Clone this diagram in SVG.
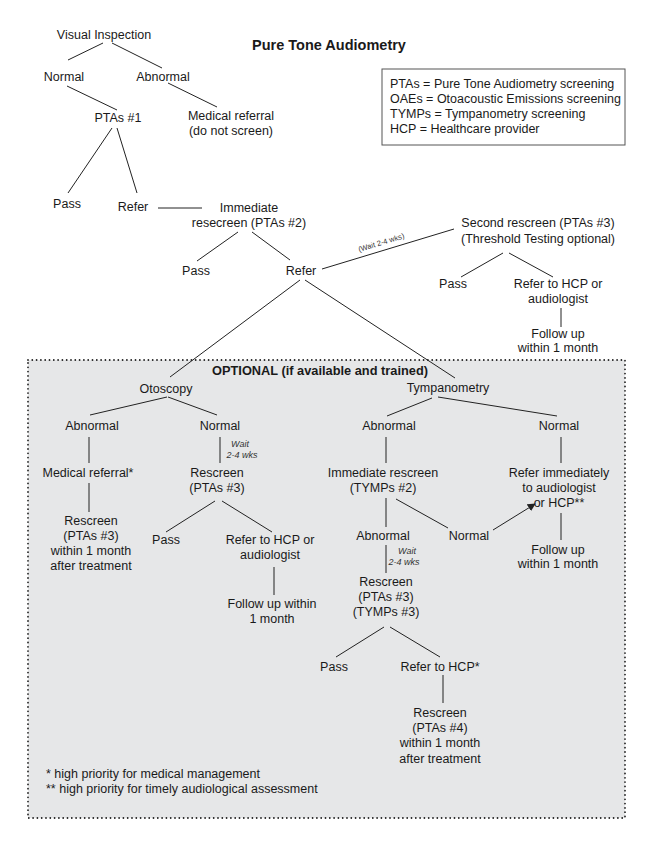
<svg xmlns="http://www.w3.org/2000/svg" width="657" height="850" viewBox="0 0 657 850">
<defs>
<style>
text{font-family:"Liberation Sans",Arial,sans-serif;font-size:12.5px;fill:#1a1a1a}
.c{text-anchor:middle}
.b{font-weight:bold;font-size:14.5px}
.w{font-style:italic;font-size:9px;fill:#333}
.sm{font-size:7.5px;fill:#333}
.ln line{stroke:#222;stroke-width:1}
</style>
<marker id="ah" viewBox="0 0 10 10" refX="9" refY="5" markerWidth="8" markerHeight="8" markerUnits="userSpaceOnUse" orient="auto">
<path d="M0,0 L10,5 L0,10 z" fill="#222"/>
</marker>
</defs>
<rect x="0" y="0" width="657" height="850" fill="#fff"/>
<g id="optional-box">
<rect x="28" y="360" width="597" height="458" fill="#e6e7e8" stroke="#222" stroke-width="1.8" stroke-dasharray="0 4.3" stroke-linecap="round"/>
<text class="c b" x="320" y="375" style="font-size:12.8px">OPTIONAL (if available and trained)</text>
</g>
<g id="title"><text class="c b" x="329" y="50">Pure Tone Audiometry</text></g>
<g id="legend">
<rect x="382" y="69" width="243" height="76" fill="#fff" stroke="#555" stroke-width="1"/>
<text x="390" y="88">PTAs = Pure Tone Audiometry screening</text>
<text x="390" y="103">OAEs = Otoacoustic Emissions screening</text>
<text x="390" y="118">TYMPs = Tympanometry screening</text>
<text x="390" y="133">HCP = Healthcare provider</text>
</g>
<g id="connectors" class="ln">
<line x1="103" y1="43" x2="68" y2="60"/>
<line x1="112" y1="43" x2="162" y2="68"/>
<line x1="67" y1="86" x2="117" y2="110"/>
<line x1="168" y1="83" x2="217" y2="107"/>
<line x1="112" y1="128" x2="68" y2="193"/>
<line x1="117" y1="128" x2="137" y2="193"/>
<line x1="158" y1="208" x2="202" y2="208"/>
<line x1="238" y1="232" x2="197" y2="261"/>
<line x1="252" y1="232" x2="290" y2="260"/>
<line x1="322" y1="269" x2="454" y2="229"/>
<line x1="503" y1="253" x2="461" y2="277"/>
<line x1="509" y1="253" x2="553" y2="277"/>
<line x1="561" y1="308" x2="561" y2="327"/>
<line x1="300" y1="280" x2="170" y2="377"/>
<line x1="305" y1="280" x2="455" y2="378"/>
<line x1="167" y1="397" x2="90" y2="415"/>
<line x1="168" y1="397" x2="217" y2="415"/>
<line x1="89" y1="437" x2="89" y2="463"/>
<line x1="89" y1="483" x2="89" y2="512"/>
<line x1="220" y1="437" x2="220" y2="463"/>
<line x1="215" y1="501" x2="166" y2="532"/>
<line x1="222" y1="501" x2="272" y2="532"/>
<line x1="274" y1="567" x2="274" y2="595"/>
<line x1="432" y1="398" x2="387" y2="416"/>
<line x1="438" y1="397" x2="557" y2="416"/>
<line x1="386" y1="437" x2="386" y2="463"/>
<line x1="561" y1="437" x2="561" y2="463"/>
<line x1="386" y1="498" x2="386" y2="527"/>
<line x1="396" y1="499" x2="448" y2="528"/>
<line x1="493" y1="530" x2="535" y2="504" marker-end="url(#ah)"/>
<line x1="561" y1="513" x2="561" y2="540"/>
<line x1="386" y1="545" x2="386" y2="573"/>
<line x1="384" y1="627" x2="336" y2="657"/>
<line x1="390" y1="627" x2="440" y2="657"/>
<line x1="443" y1="675" x2="443" y2="703"/>
</g>
<g id="wait-label-1"><text class="c sm" transform="translate(382,245) rotate(-16.8)">(Wait 2-4 wks)</text></g>
<g id="n-visual"><text class="c" x="104" y="39">Visual Inspection</text></g>
<g id="n-normal1"><text class="c" x="64" y="81">Normal</text></g>
<g id="n-abnormal1"><text class="c" x="163" y="81">Abnormal</text></g>
<g id="n-ptas1"><text class="c" x="118" y="122">PTAs #1</text></g>
<g id="n-medref1"><text class="c" x="231" y="120">Medical referral</text><text class="c" x="231" y="135">(do not screen)</text></g>
<g id="n-pass1"><text class="c" x="67" y="208">Pass</text></g>
<g id="n-refer1"><text class="c" x="133" y="211">Refer</text></g>
<g id="n-immed"><text class="c" x="249" y="212">Immediate</text><text class="c" x="249" y="227">resecreen (PTAs #2)</text></g>
<g id="n-pass2"><text class="c" x="196" y="275">Pass</text></g>
<g id="n-refer2"><text class="c" x="301" y="275">Refer</text></g>
<g id="n-second"><text class="c" x="538" y="227">Second rescreen (PTAs #3)</text><text class="c" x="538" y="243">(Threshold Testing optional)</text></g>
<g id="n-pass3"><text class="c" x="453" y="288">Pass</text></g>
<g id="n-refer3"><text class="c" x="558" y="288">Refer to HCP or</text><text class="c" x="558" y="303">audiologist</text></g>
<g id="n-follow1"><text class="c" x="558" y="338">Follow up</text><text class="c" x="558" y="352">within 1 month</text></g>
<g id="n-oto"><text class="c" x="166" y="393">Otoscopy</text></g>
<g id="n-oto-abn"><text class="c" x="92" y="430">Abnormal</text></g>
<g id="n-oto-norm"><text class="c" x="220" y="430">Normal</text></g>
<g id="n-medref2"><text class="c" x="88" y="477">Medical referral*</text></g>
<g id="n-rescreen-a"><text class="c" x="91" y="525">Rescreen</text><text class="c" x="91" y="540">(PTAs #3)</text><text class="c" x="91" y="555">within 1 month</text><text class="c" x="91" y="570">after treatment</text></g>
<g id="wait-label-2"><text class="c w" x="240" y="447">Wait</text><text class="c w" x="242" y="458">2-4 wks</text></g>
<g id="n-rescreen-b"><text class="c" x="217" y="477">Rescreen</text><text class="c" x="217" y="492">(PTAs #3)</text></g>
<g id="n-pass4"><text class="c" x="166" y="544">Pass</text></g>
<g id="n-refer4"><text class="c" x="270" y="544">Refer to HCP or</text><text class="c" x="270" y="559">audiologist</text></g>
<g id="n-follow2"><text class="c" x="272" y="608">Follow up within</text><text class="c" x="272" y="623">1 month</text></g>
<g id="n-tymp"><text class="c" x="448" y="392">Tympanometry</text></g>
<g id="n-tymp-abn"><text class="c" x="389" y="430">Abnormal</text></g>
<g id="n-tymp-norm"><text class="c" x="559" y="430">Normal</text></g>
<g id="n-immed2"><text class="c" x="383" y="477">Immediate rescreen</text><text class="c" x="383" y="492">(TYMPs #2)</text></g>
<g id="n-referimm"><text class="c" x="559" y="477">Refer immediately</text><text class="c" x="559" y="492">to audiologist</text><text class="c" x="559" y="507">or HCP**</text></g>
<g id="n-abn3"><text class="c" x="383" y="540">Abnormal</text></g>
<g id="n-norm3"><text class="c" x="469" y="540">Normal</text></g>
<g id="n-follow3"><text class="c" x="558" y="554">Follow up</text><text class="c" x="558" y="568">within 1 month</text></g>
<g id="wait-label-3"><text class="c w" x="407" y="554">Wait</text><text class="c w" x="404" y="565">2-4 wks</text></g>
<g id="n-rescreen-c"><text class="c" x="386" y="586">Rescreen</text><text class="c" x="386" y="601">(PTAs #3)</text><text class="c" x="386" y="616">(TYMPs #3)</text></g>
<g id="n-pass5"><text class="c" x="334" y="671">Pass</text></g>
<g id="n-refer5"><text class="c" x="440" y="671">Refer to HCP*</text></g>
<g id="n-rescreen-d"><text class="c" x="440" y="717">Rescreen</text><text class="c" x="440" y="732">(PTAs #4)</text><text class="c" x="440" y="747">within 1 month</text><text class="c" x="440" y="763">after treatment</text></g>
<g id="footnotes"><text x="46" y="778">* high priority for medical management</text><text x="46" y="793">** high priority for timely audiological assessment</text></g>
</svg>
